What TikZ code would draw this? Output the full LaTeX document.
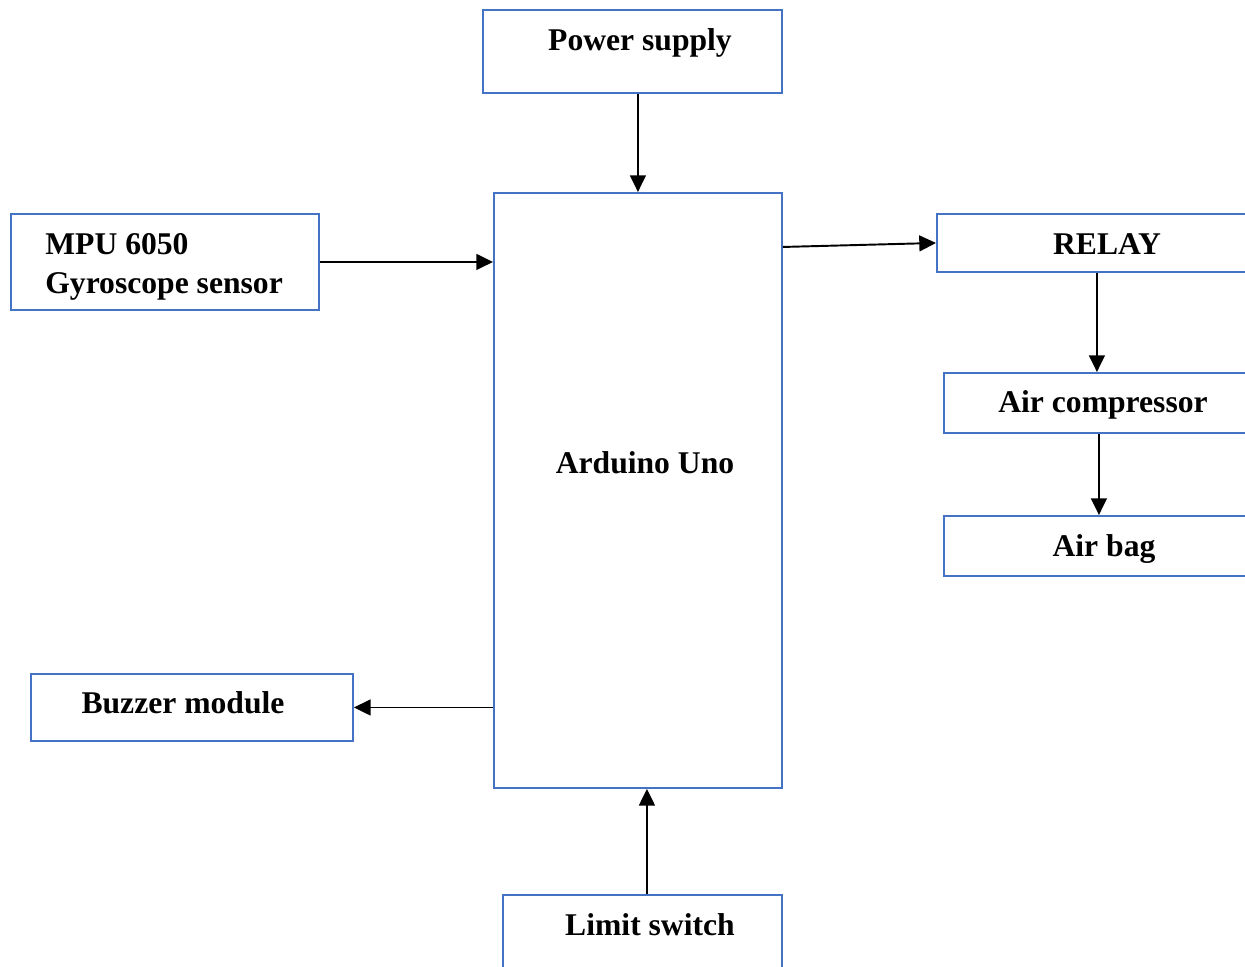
\documentclass[tikz,border=0pt]{standalone}
\usepackage{fontspec}
\setmainfont{Liberation Serif}
\usetikzlibrary{arrows.meta}
\definecolor{boxblue}{HTML}{4472C4}
\tikzset{
	block/.style = {draw = boxblue, line width = 1.1pt, inner sep = 0pt, anchor = north west},
	lbl/.style = {font = \bfseries\fontsize{18}{22}\selectfont, inner sep = 0pt, anchor = base},
	link/.style = {line width = 1.1pt, -{Triangle[length = 9.5pt, width = 9pt]}}
}
\begin{document}
\begin{tikzpicture}[x = 0.02cm, y = -0.02cm]
	\useasboundingbox (0,0) rectangle (1245,967);
	\clip (0,0) rectangle (1245,967);
	\node [block, minimum width = 5.98cm, minimum height = 1.66cm] (ps) at (482,9) {};
	\node [block, minimum width = 5.76cm, minimum height = 11.9cm] (ard) at (493,192) {};
	\node [block, minimum width = 6.16cm, minimum height = 1.92cm] (mpu) at (10,213) {};
	\node [block, minimum width = 6.4cm, minimum height = 1.16cm] (relay) at (936,213) {};
	\node [block, minimum width = 6.2cm, minimum height = 1.2cm] (comp) at (943,372) {};
	\node [block, minimum width = 6.2cm, minimum height = 1.2cm] (bag) at (943,515) {};
	\node [block, minimum width = 6.44cm, minimum height = 1.34cm] (buz) at (30,673) {};
	\node [block, minimum width = 5.58cm, minimum height = 1.8cm] (lim) at (502,894) {};
	% labels
	\node [lbl] (pstext) at (640,50) {Power supply};
	\node [lbl] (ardtext) at (645,473) {Arduino Uno};
	\node [lbl, anchor = base west, align = left] (mputext) at (45,293) {MPU 6050\\Gyroscope sensor};
	\node [lbl] (relaytext) at (1107,254) {RELAY};
	\node [lbl] (comptext) at (1103,412) {Air compressor};
	\node [lbl] (bagtext) at (1104,556) {Air bag};
	\node [lbl] (buztext) at (183,713) {Buzzer module};
	\node [lbl] (limtext) at (650,935) {Limit switch};
	% connections
	\draw [link] (ps.south -| ard.north) -- (ard.north);
	\draw [link] (mpu.east) -- (mpu.east -| ard.west);
	\draw [link] ([yshift = -0.08cm]ard.east |- relay.west) -- (relay.west);
	\draw [link] (relay.south) -- (relay.south |- comp.north);
	\draw [link] (comp.south) -- (comp.south |- bag.north);
	\draw [link] (ard.west |- buz.east) -- (buz.east);
	\draw [link] ([xshift = 0.09cm]lim.north) -- ([xshift = 0.09cm]lim.north |- ard.south);
\end{tikzpicture}
\end{document}
